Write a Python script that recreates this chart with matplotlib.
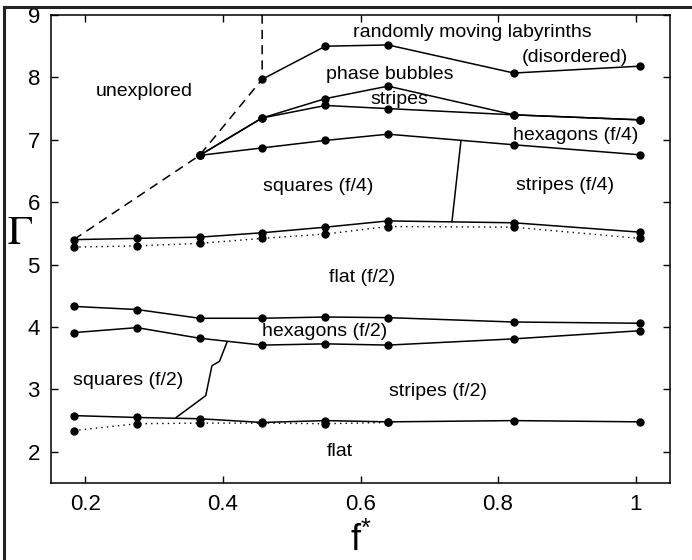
import matplotlib
matplotlib.use("Agg")
import matplotlib.pyplot as plt
from matplotlib.lines import Line2D

plt.rcParams['font.family'] = ['Liberation Sans', 'DejaVu Sans']
plt.rcParams['mathtext.fontset'] = 'custom'
plt.rcParams['mathtext.rm'] = 'Liberation Sans'

# f* positions of the measured points
f_all = [0.183, 0.275, 0.366, 0.457, 0.549, 0.640, 0.823, 1.006]

# upper boundary of flat (f/2) region (solid) and its dotted companion
flat_f2_upper = [5.40, 5.42, 5.44, 5.51, 5.60, 5.70, 5.67, 5.52]
flat_f2_dotted = [5.28, 5.30, 5.34, 5.42, 5.49, 5.61, 5.60, 5.42]

# hexagons (f/2) band
hex_f2_upper = [4.33, 4.28, 4.14, 4.14, 4.16, 4.15, 4.08, 4.06]
hex_f2_lower = [3.91, 3.99, 3.82, 3.71, 3.73, 3.71, 3.81, 3.94]

# lower boundary of stripes (f/2) (solid) and dotted companion
stripes_f2_lower = [2.58, 2.55, 2.53, 2.47, 2.50, 2.48, 2.50, 2.48]
f_dot_low = [0.183, 0.275, 0.366, 0.457, 0.549, 0.640]
flat_dotted_low = [2.34, 2.45, 2.46, 2.46, 2.45, 2.47]

# upper region boundaries (start at f*=0.366)
f_up = [0.366, 0.457, 0.549, 0.640, 0.823, 1.006]
squares_f4_upper = [6.75, 6.87, 6.99, 7.09, 6.92, 6.76]
stripes_lower = [6.75, 7.35, 7.55, 7.50, 7.40, 7.32]
bubbles_lower = [6.75, 7.35, 7.66, 7.86, 7.40, 7.32]

# labyrinth boundary
f_lab = [0.457, 0.549, 0.640, 0.823, 1.006]
labyrinth_lower = [7.97, 8.50, 8.52, 8.07, 8.18]

# dashed boundary of unexplored region
f_dash = [0.183, 0.366, 0.457, 0.457]
g_dash = [5.40, 6.75, 7.97, 9.0]

# squares/stripes (f/4) separator
f_sep4 = [0.746, 0.733]
g_sep4 = [6.98, 5.69]

# squares/stripes (f/2) separator
f_sep2 = [0.406, 0.395, 0.384, 0.375, 0.332]
g_sep2 = [3.76, 3.45, 3.38, 2.90, 2.55]

labels = [
    ("unexplored", 0.286, 7.78),
    ("randomly moving labyrinths", 0.762, 8.72),
    ("(disordered)", 0.912, 8.32),
    ("phase bubbles", 0.643, 8.05),
    ("stripes", 0.656, 7.65),
    ("hexagons (f/4)", 0.913, 7.07),
    ("squares (f/4)", 0.538, 6.25),
    ("stripes (f/4)", 0.897, 6.27),
    ("flat (f/2)", 0.603, 4.79),
    ("hexagons (f/2)", 0.548, 3.93),
    ("squares (f/2)", 0.262, 3.15),
    ("stripes (f/2)", 0.712, 2.97),
    ("flat", 0.570, 2.00),
]

fig = plt.figure(figsize=(6.92, 5.60), dpi=100)
ax = fig.add_axes([51/692, 1-483/560, (670-51)/692, (483-15)/560])

lw = 1.1
ms = 5
kw = dict(color='black', lw=lw, marker='o', ms=ms)

ax.plot(f_all, flat_f2_upper, **kw)
ax.plot(f_all, flat_f2_dotted, color='black', lw=1.0, ls=(0, (1, 3)), marker='o', ms=ms)
ax.plot(f_all, hex_f2_upper, **kw)
ax.plot(f_all, hex_f2_lower, **kw)
ax.plot(f_all, stripes_f2_lower, **kw)
ax.plot(f_dot_low, flat_dotted_low, color='black', lw=1.0, ls=(0, (1, 3)), marker='o', ms=ms)
ax.plot(f_up, squares_f4_upper, **kw)
ax.plot(f_up, stripes_lower, **kw)
ax.plot(f_up, bubbles_lower, **kw)
ax.plot(f_lab, labyrinth_lower, **kw)
ax.plot(f_dash, g_dash, color='black', lw=lw, ls=(0, (6, 4)))
ax.plot(f_sep4, g_sep4, color='black', lw=lw)
ax.plot(f_sep2, g_sep2, color='black', lw=lw)

for txt, x, y in labels:
    ax.text(x, y, txt, ha='center', va='center', fontsize=14, color='black')

ax.set_xlim(0.15, 1.05)
ax.set_ylim(1.5, 9.0)
ax.set_xticks([0.2, 0.4, 0.6, 0.8, 1.0])
ax.set_xticklabels(['0.2', '0.4', '0.6', '0.8', '1'])
ax.set_yticks([2, 3, 4, 5, 6, 7, 8, 9])
ax.tick_params(direction='in', top=True, right=True, length=5, width=1,
               labelsize=16, pad=8)
for s in ax.spines.values():
    s.set_linewidth(1.1)

# axis labels
fig.text(20/692, 1-232/560, r'$\Gamma$', fontsize=30, ha='center', va='center',
         family='serif', math_fontfamily='stix')
fig.text(361/692, 1/560, r'$\mathregular{f^{*}}$', fontsize=26,
         ha='center', va='bottom')

# outer frame (left and top edges)
fig.add_artist(Line2D([4/692, 4/692], [0, 1-7/560], transform=fig.transFigure,
                      color='#222222', lw=2.2))
fig.add_artist(Line2D([4/692, 1], [1-7/560, 1-7/560], transform=fig.transFigure,
                      color='#222222', lw=2.2))

fig.savefig('out.png', dpi=100)
